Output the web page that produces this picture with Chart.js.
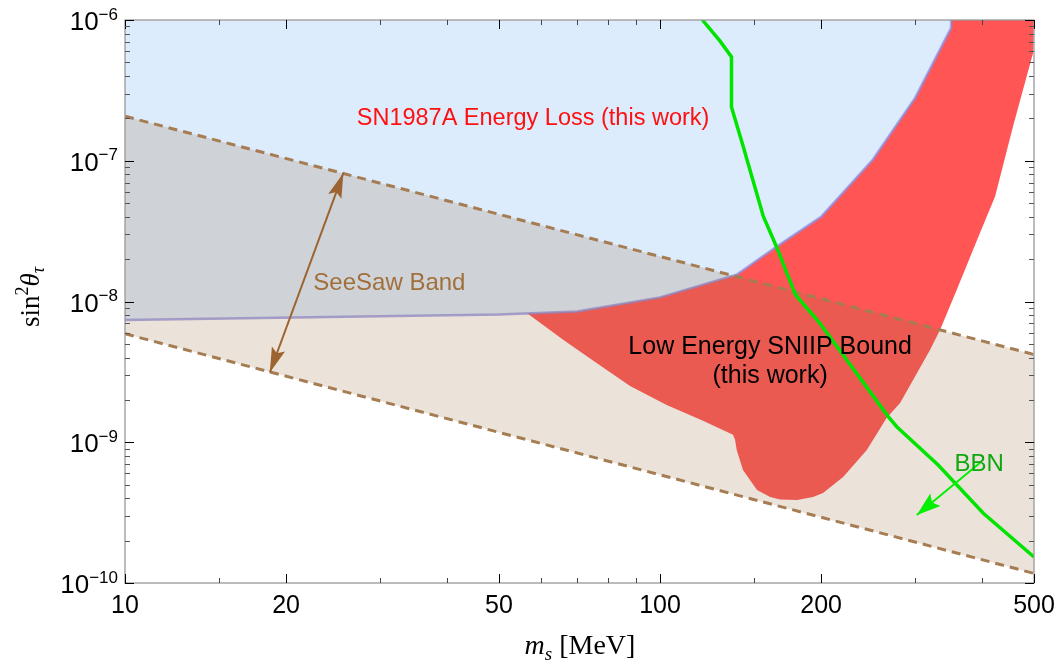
<!DOCTYPE html>
<html>
<head>
<meta charset="utf-8">
<script src="https://cdn.jsdelivr.net/npm/chart.js@4.4.1/dist/chart.umd.min.js"></script>
<style>
  html, body { margin: 0; padding: 0; background: #fff; }
  #wrap { width: 1060px; height: 665px; position: relative; }
</style>
</head>
<body>
<div id="wrap"><canvas id="chart"></canvas></div>
<script>
// --- data (m_s in MeV, sin^2 theta_tau) ---
const seesawMass = [10, 500];
const seesawUpper = [2.07e-7, 4.2e-9];
const seesawLower = [5.9e-9, 1.17e-10];

const sn1987Mass = [10, 50, 70, 100, 139, 165, 200, 250, 300, 350, 350];
const sn1987Bound = [7.4e-9, 8.1e-9, 8.5e-9, 1.07e-8, 1.55e-8, 2.45e-8, 4.0e-8, 1.02e-7, 2.81e-7, 8.8e-7, 1e-6];

const sniipMass = [55, 56.7, 65.9, 76.1, 87.9, 102.9, 120.3, 136.9, 138.1, 139.1, 142.9, 151.8, 160.6, 167.7, 180.4, 193.2, 201.7, 219.9, 243.5, 265.3, 281, 319.6, 333.8, 358.6, 396.4, 422.9, 456.9, 498, 500];
const sniipBound = [8.6e-9, 8.14e-9, 5.34e-9, 3.66e-9, 2.51e-9, 1.84e-9, 1.42e-9, 1.13e-9, 1.04e-9, 8.81e-10, 6.35e-10, 4.58e-10, 4.08e-10, 3.92e-10, 3.89e-10, 4.08e-10, 4.36e-10, 5.66e-10, 8.81e-10, 1.49e-9, 1.9e-9, 4.53e-9, 6.29e-9, 1.21e-8, 3.08e-8, 5.58e-8, 1.76e-7, 5.84e-7, 1e-6];

const bbnMass = [120, 129.5, 136, 136, 143, 156, 165, 179, 199, 267, 277, 331, 402, 500];
const bbnBound = [1e-6, 7.07e-7, 5.47e-7, 2.41e-7, 1.27e-7, 4.02e-8, 2.46e-8, 1.12e-8, 7.0e-9, 1.52e-9, 1.29e-9, 6.9e-10, 3.13e-10, 1.53e-10];

const seesawArrowMass = [18.65, 25.6];
const seesawArrowSin = [3.13e-9, 8.2e-8];
const bbnArrowMass = [396, 302];
const bbnArrowSin = [7.13e-10, 3.04e-10];

const xMajorTicks = [10, 20, 50, 100, 200, 500];
const xMinorTicks = [15, 30, 40, 60, 70, 80, 90, 150, 300, 400];
const yExponents = [-10, -9, -8, -7, -6];
const yMinorFactors = [2, 3, 4, 5, 6, 7, 8, 9];

// text labels, anchored in data coordinates
const notes = [
  { text: 'SN1987A Energy Loss (this work)', m: 57.9, s: 2.0e-7, color: '#ff1010', size: 23.5 },
  { text: 'SeeSaw Band', m: 31.2, s: 1.34e-8, color: '#a0703c', size: 24 },
  { text: 'Low Energy SNIIP Bound', m: 160.6, s: 4.75e-9, color: '#000', size: 25 },
  { text: '(this work)', m: 160.6, s: 2.93e-9, color: '#000', size: 25 },
  { text: 'BBN', m: 394.8, s: 7.02e-10, color: '#10a810', size: 24 }
];

const SANS = "'Liberation Sans', Arial, sans-serif";
const SERIF = "'Liberation Serif', 'Times New Roman', serif";

const pts = (xs, ys) => xs.map((m, i) => ({ x: m, y: ys[i] }));

const arrowHead = (ctx, from, to, len, half, color) => {
  const a = Math.atan2(to.y - from.y, to.x - from.x);
  const c = Math.cos(a), s = Math.sin(a);
  const bx = to.x - len * c, by = to.y - len * s;
  ctx.beginPath();
  ctx.moveTo(to.x, to.y);
  ctx.lineTo(bx - half * s, by + half * c);
  ctx.lineTo(to.x - len * 0.82 * c, to.y - len * 0.82 * s);
  ctx.lineTo(bx + half * s, by - half * c);
  ctx.closePath();
  ctx.fillStyle = color;
  ctx.fill();
};

const framePlugin = {
  id: 'frame',
  afterDatasetsDraw(chart) {
    const { ctx, chartArea: a, scales: { x, y } } = chart;
    ctx.save();

    // arrow heads
    const sa = chart.getDatasetMeta(5).data, ba = chart.getDatasetMeta(6).data;
    arrowHead(ctx, sa[0], sa[1], 25, 7, '#9c6430');
    arrowHead(ctx, sa[1], sa[0], 25, 7, '#9c6430');
    arrowHead(ctx, ba[0], ba[1], 24, 8, '#00f000');

    // notes
    ctx.textAlign = 'center';
    ctx.textBaseline = 'middle';
    notes.forEach(n => {
      ctx.font = n.size + 'px ' + SANS;
      ctx.fillStyle = n.color;
      ctx.fillText(n.text, x.getPixelForValue(n.m), y.getPixelForValue(n.s));
    });

    // frame
    ctx.strokeStyle = '#999';
    ctx.lineWidth = 1.3;
    ctx.strokeRect(a.left, a.top, a.right - a.left, a.bottom - a.top);

    const tickX = (v, len, col) => {
      const px = Math.round(x.getPixelForValue(v)) + 0.5;
      ctx.strokeStyle = col; ctx.lineWidth = 1;
      ctx.beginPath();
      ctx.moveTo(px, a.bottom); ctx.lineTo(px, a.bottom - len);
      ctx.moveTo(px, a.top); ctx.lineTo(px, a.top + len);
      ctx.stroke();
    };
    const tickY = (v, len, col) => {
      const py = Math.round(y.getPixelForValue(v)) + 0.5;
      ctx.strokeStyle = col; ctx.lineWidth = 1;
      ctx.beginPath();
      ctx.moveTo(a.left, py); ctx.lineTo(a.left + len, py);
      ctx.moveTo(a.right, py); ctx.lineTo(a.right - len, py);
      ctx.stroke();
    };
    xMajorTicks.forEach(v => tickX(v, 9, '#000'));
    xMinorTicks.forEach(v => tickX(v, 5, '#444'));
    yExponents.forEach(e => {
      tickY(Math.pow(10, e), 9, '#000');
      if (e < -6) yMinorFactors.forEach(f => tickY(f * Math.pow(10, e), 5, '#555'));
    });

    // tick labels
    ctx.fillStyle = '#000';
    ctx.textBaseline = 'alphabetic';
    ctx.textAlign = 'center';
    ctx.font = '25px ' + SANS;
    xMajorTicks.forEach(v => ctx.fillText(String(v), x.getPixelForValue(v), 613));

    yExponents.forEach(e => {
      const py = y.getPixelForValue(Math.pow(10, e));
      const sup = '\u2212' + Math.abs(e);
      ctx.font = '17px ' + SANS;
      const sw = ctx.measureText(sup).width;
      ctx.textAlign = 'left';
      ctx.fillText(sup, 118 - sw, py - 0.5);
      ctx.font = '26px ' + SANS;
      ctx.textAlign = 'right';
      ctx.fillText('10', 118 - sw, py + 10);
    });

    // x axis title: m_s [MeV]
    ctx.textAlign = 'left';
    const parts = [
      { t: 'm', f: 'italic 28px ' + SERIF, dy: 0 },
      { t: 's', f: 'italic 19px ' + SERIF, dy: 6 },
      { t: ' [MeV]', f: '28px ' + SERIF, dy: 0 }
    ];
    let w = 0;
    parts.forEach(p => { ctx.font = p.f; p.w = ctx.measureText(p.t).width; w += p.w; });
    let cx = 580 - w / 2;
    parts.forEach(p => { ctx.font = p.f; ctx.fillText(p.t, cx, 654 + p.dy); cx += p.w; });

    // y axis title: sin^2 theta_tau
    ctx.translate(39, 297);
    ctx.rotate(-Math.PI / 2);
    const yparts = [
      { t: 'sin', f: '27px ' + SERIF, dy: 0 },
      { t: '2', f: '18px ' + SERIF, dy: -11 },
      { t: '\u03b8', f: 'italic 27px ' + SERIF, dy: 0 },
      { t: '\u03c4', f: 'italic 18px ' + SERIF, dy: 5 }
    ];
    w = 0;
    yparts.forEach(p => { ctx.font = p.f; p.w = ctx.measureText(p.t).width; w += p.w; });
    cx = -w / 2;
    yparts.forEach(p => { ctx.font = p.f; ctx.fillText(p.t, cx, p.dy); cx += p.w; });

    ctx.restore();
  }
};

const ctx = document.getElementById('chart').getContext('2d');
new Chart(ctx, {
  type: 'line',
  data: {
    datasets: [
      { label: 'Low Energy SNIIP Bound', data: pts(sniipMass, sniipBound), fill: 'end',
        backgroundColor: '#ff5555', borderColor: 'transparent', borderWidth: 0, order: 7 },
      { label: 'SN1987A Energy Loss', data: pts(sn1987Mass, sn1987Bound), fill: 'end',
        backgroundColor: '#dcecfc', borderColor: 'rgba(140,140,225,0.75)', borderWidth: 2.5, order: 6 },
      { label: 'SeeSaw upper', data: pts(seesawMass, seesawUpper), fill: '+1',
        backgroundColor: 'rgba(155,110,65,0.2)', borderColor: '#a67c52', borderDash: [9, 6],
        borderWidth: 3, order: 5, clip: 0 },
      { label: 'SeeSaw lower', data: pts(seesawMass, seesawLower), fill: false,
        borderColor: '#a67c52', borderDash: [9, 6], borderWidth: 3, order: 4, clip: 0 },
      { label: 'BBN', data: pts(bbnMass, bbnBound), fill: false,
        borderColor: '#00e400', borderWidth: 3.5, order: 3, clip: 0 },
      { label: 'SeeSaw arrow', data: pts(seesawArrowMass, seesawArrowSin), fill: false,
        borderColor: '#9c6430', borderWidth: 2, order: 2 },
      { label: 'BBN arrow', data: pts(bbnArrowMass, bbnArrowSin), fill: false,
        borderColor: '#00f000', borderWidth: 2, order: 1 }
    ]
  },
  options: {
    responsive: true,
    maintainAspectRatio: false,
    animation: false,
    layout: { padding: { left: 125, top: 20, right: 26, bottom: 82 } },
    elements: { point: { radius: 0, hoverRadius: 0 }, line: { tension: 0 } },
    plugins: { legend: { display: false }, tooltip: { enabled: false } },
    events: [],
    scales: {
      x: { type: 'logarithmic', min: 10, max: 500, display: false },
      y: { type: 'logarithmic', min: 1e-10, max: 1e-6, display: false }
    }
  },
  plugins: [framePlugin]
});
</script>
</body>
</html>
